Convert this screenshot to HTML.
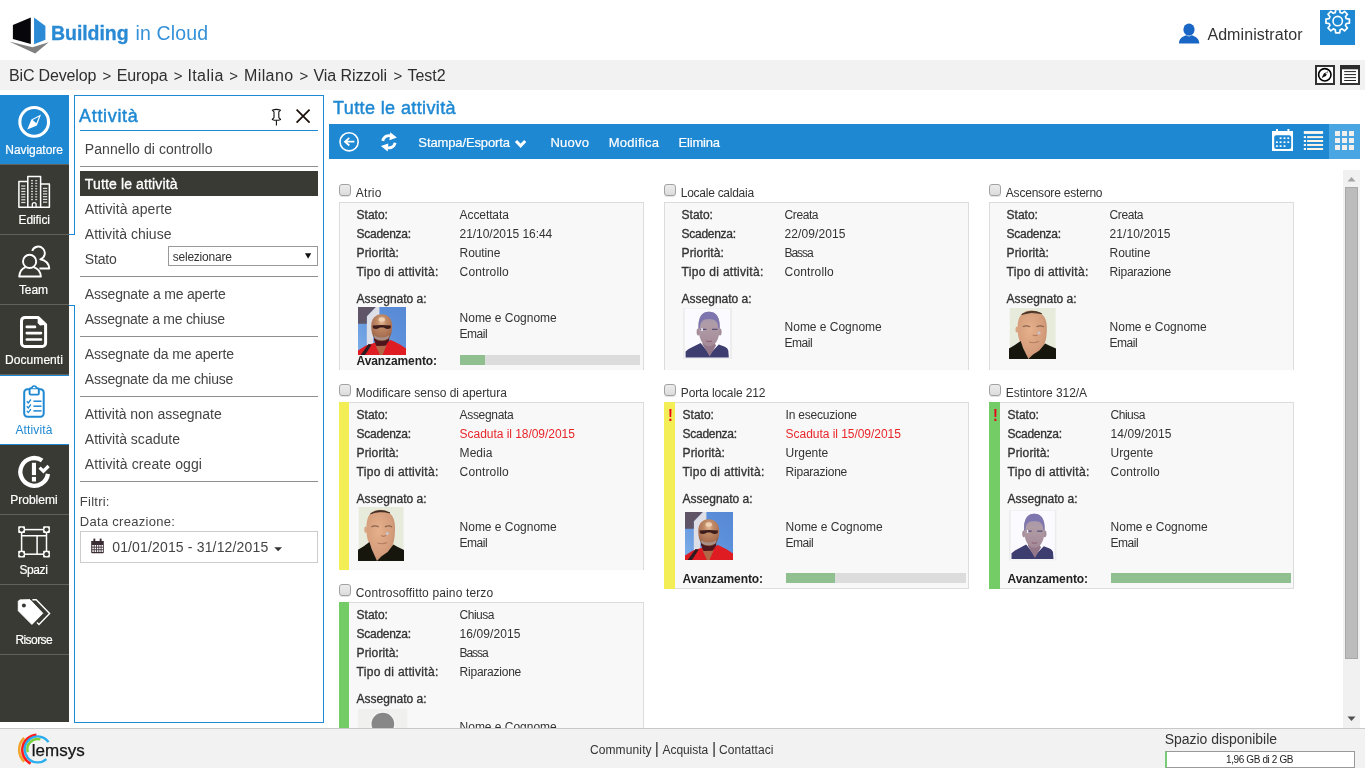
<!DOCTYPE html>
<html lang="it"><head><meta charset="utf-8"><title>Building in Cloud - Tutte le attività</title>
<style>
*{box-sizing:border-box;margin:0;padding:0}
html,body{width:1365px;height:768px;overflow:hidden;background:#fff}
body{font-family:"Liberation Sans",sans-serif;color:#333;position:relative}
.t{position:absolute;white-space:nowrap}
.abs,.abs>div,.abs>svg,.abs>span{position:absolute}
svg{display:block;overflow:visible}
#crumbs{left:0;top:60px;width:1365px;height:30px;background:#f2f2f2}
#side{left:0;top:95px;width:69px;height:627px;background:#3a3a35}
#side .it{left:0;width:69px;height:70px;border-bottom:1px solid #62625d}
#side .nav{background:#1e88d3}
#side .act{background:#fff;border-top:1px solid #1e88d3;border-bottom:1px solid #1e88d3}
#panel{left:74px;top:95px;width:250px;height:628px;border:1px solid #1e88d3;background:#fff}
.sep{left:80px;width:238px;height:1px;background:#8f8f8f}
#tool{left:329px;top:124px;width:1031px;height:35px;background:#1e88d3}
.card{width:305px;background:#f8f8f8;border:1px solid #dcdcdc}
.cb{width:12px;height:12px;border:1px solid #a2a2a2;border-radius:3px;background:linear-gradient(#ececec,#dcdcdc);box-shadow:0 1px 0 #e4e4e4}
.bar{height:10px;background:#dcdcdc}
.bar i{display:block;height:10px;background:#90c090}
#foot{left:0;top:728px;width:1365px;height:40px;background:#f2f2f2;border-top:1px solid #c8c8c8}
</style></head>
<body>
<svg width="0" height="0" style="position:absolute;left:0;top:0" aria-hidden="true"><defs><filter id="blA" x="-5%" y="-5%" width="110%" height="110%"><feGaussianBlur stdDeviation="0.55"/></filter><filter id="blB" x="-5%" y="-5%" width="110%" height="110%"><feGaussianBlur stdDeviation="0.7"/></filter><linearGradient id="skyA" x1="0" y1="1" x2="1" y2="0"><stop offset="0" stop-color="#7fb0ea"/><stop offset="0.6" stop-color="#5d90da"/><stop offset="1" stop-color="#5688d4"/></linearGradient><radialGradient id="skinA" cx="0.5" cy="0.28" r="0.75"><stop offset="0" stop-color="#e8bc98"/><stop offset="0.3" stop-color="#c08a66"/><stop offset="0.75" stop-color="#a86e50"/><stop offset="1" stop-color="#70402e"/></radialGradient><linearGradient id="faceB" x1="0" y1="0" x2="0" y2="1"><stop offset="0" stop-color="#9086b2"/><stop offset="0.2" stop-color="#a898aa"/><stop offset="0.4" stop-color="#b09ca6"/><stop offset="1" stop-color="#a48a96"/></linearGradient><radialGradient id="skinC" cx="0.42" cy="0.4" r="0.7"><stop offset="0" stop-color="#e6b08c"/><stop offset="0.7" stop-color="#d49c7a"/><stop offset="1" stop-color="#b88466"/></radialGradient><symbol id="phA" viewBox="0 0 48 48" preserveAspectRatio="none"><rect width="48" height="48" fill="url(#skyA)"/><g filter="url(#blA)"><polygon points="17.7,0 21.4,0 21.4,10 15.2,14 15.2,37.5 8.8,38 8.8,9.2" fill="#dedee6"/><polygon points="0,0 17.7,0 8.8,9.2 8.8,16.8 0,16.8" fill="#5e5566"/><path d="M0 48 L0 43.5 L8 38.6 L17 35.8 L26 36.5 L33 33 L42 37.6 L48 41.4 L48 48 Z" fill="#df1a22"/><polygon points="10.6,37 13.6,37.8 7,48 2.6,48" fill="#2a1c20"/><polygon points="17.3,38 22,48 24.5,48 28.8,38" fill="#b06848"/><path d="M16.2 26 L31 26 L31.2 33.5 L27.5 38.8 L18.5 39 L16 33 Z" fill="#4d151a"/><path d="M23.7 7.2 C30.2 7.2 34.2 12 34.2 19 C34.2 24 33.2 28 31.2 31 C29.2 33.4 26 34.2 23.7 34.2 C21.4 34.2 18.2 33.4 16.2 31 C14.2 28 13.2 24 13.2 19 C13.2 12 17.2 7.2 23.7 7.2 Z" fill="url(#skinA)"/><path d="M15.8 28 Q23.6 33.2 31.4 28 L30.4 31.5 Q23.6 35.2 16.8 31.5 Z" fill="#a89088"/><path d="M14.6 18.6 Q23.7 17.4 33 18.6 L32.6 21.2 Q28.8 23 25.6 20.6 L22 20.6 Q18.8 23 15 21.2 Z" fill="#3c1a1c"/><ellipse cx="23.8" cy="12.4" rx="3.2" ry="2.2" fill="#f6dcc2" opacity="0.8"/></g></symbol><symbol id="phB" viewBox="0 0 49 51" preserveAspectRatio="none"><rect width="49" height="51" fill="#ececec"/><rect x="1.6" y="0.6" width="45.6" height="49.4" fill="#fbfbff"/><g filter="url(#blB)"><path d="M2.6 49.6 L2.6 43.6 Q6 40.4 10 38.8 L17.6 34.9 L26.7 46 L35.8 36.5 L41.9 38.8 Q44.6 40 45.3 42.4 L45.8 49.6 Z" fill="#3c3c70"/><polygon points="19.4,36 26.7,48.4 33,37.6 30,33 20,33" fill="#94788a"/><ellipse cx="15.2" cy="24" rx="1.6" ry="3.4" fill="#a48c9a"/><ellipse cx="37" cy="24" rx="1.6" ry="3.4" fill="#a48c9a"/><path d="M26 3.8 C33.6 3.8 37 10 36.8 19 C36.6 28 34.6 33 31.4 36.2 C28.6 38.8 23.6 38.8 20.8 36.2 C17.6 33 15.6 28 15.4 19 C15.2 10 18.4 3.8 26 3.8 Z" fill="url(#faceB)"/><path d="M15.6 21 C15 9 19 3.8 26 3.8 C33 3.8 37.2 9 36.6 21 L35.2 20 C35.2 14 32.6 11 26 11 C19.6 11 17.2 14 17 20 Z" fill="#7e76ae"/><path d="M17.6 21.4 H23.4 M29 21.4 H34.6" stroke="#5a5078" stroke-width="1.3"/><path d="M23.4 33 Q26.2 34.2 29 33" stroke="#8a5c70" stroke-width="1" fill="none"/><rect x="18.2" y="20.2" width="1.6" height="2.8" fill="#f4f4ff"/></g></symbol><symbol id="phC" viewBox="0 0 48 51" preserveAspectRatio="none"><rect width="48" height="51" fill="#f4f4f0"/><rect x="1" y="0" width="46.4" height="51" fill="#e7ebdb"/><g filter="url(#blB)"><path d="M22.5 2.6 C32 2.4 38.6 8 38.6 19 C38.6 30 37.4 36 33 41 L27 50 L19 51 L13.6 38 C9.6 32 8.6 26 8.8 19 C9 8 13.6 2.8 22.5 2.6 Z" fill="url(#skinC)"/><path d="M13 6.4 Q22.6 0.6 33.4 5.6 Q22.8 3 13 6.4 Z" fill="#3c2c24" stroke="#3c2c24" stroke-width="0.8"/><ellipse cx="8" cy="21.4" rx="1.4" ry="3" fill="#d8a482"/><path d="M14 18.8 Q17.6 17 21.6 18.8 M28 18.8 Q32 17 35.6 18.8" stroke="#8a6450" stroke-width="1.2" fill="none"/><path d="M24.2 27 Q27 28.6 29.4 26.6 M20.4 34 Q25.4 35.6 30.4 33.6" stroke="#b47c60" stroke-width="1.1" fill="none"/><ellipse cx="30.6" cy="25" rx="1.7" ry="1.5" fill="#c9c4cc"/><path d="M0 51 L0 40.4 L6 37 L11.9 33 L14.4 40 L19.8 51 Z" fill="#15150f"/><path d="M19.8 51 L24.6 46.6 L31 42.4 L36.9 35.4 L41 37.6 L48 40.6 L48 51 Z" fill="#15150f"/></g></symbol><symbol id="phD" viewBox="0 0 49 48" preserveAspectRatio="none"><rect width="49" height="48" fill="#f0f0ee"/><circle cx="24.6" cy="15" r="12.3" fill="#fafafa"/><circle cx="24.6" cy="15" r="11.2" fill="#878787"/></symbol></defs></svg>
<div id="hdr" class="abs" style="left:0;top:0;width:1365px;height:60px">
<svg style="left:8px;top:15px" width="44" height="40" viewBox="8 15 44 40"><polygon points="9.1,41.5 32.5,47.3 48.7,42.2 35.2,53.4" fill="#7f7f7f"/><polygon points="12.9,24.9 30.8,17.5 30.8,43.9 12.9,39.1" fill="#06060b"/><polygon points="34.05,17.5 45.4,25.9 45.4,39.8 34.05,44.2" fill="#2a8ad6"/></svg>
<svg style="left:1176px;top:20px" width="26" height="26" viewBox="1176 20 26 26"><ellipse cx="1189" cy="29.6" rx="5.6" ry="6.2" fill="#1a66c4"/><path d="M1179 43.6 C1179 38.2 1182.5 36.8 1186.2 35.3 Q1189 37.6 1191.8 35.3 C1195.5 36.8 1199.3 38.2 1199.3 43.6 Z" fill="#1a66c4"/></svg>
<div style="left:1320px;top:10px;width:35px;height:35px;background:#1e88d3;overflow:hidden"><svg style="position:absolute;left:0;top:0" width="35" height="35" viewBox="1320 10 35 35"><polygon points="1346.27,18.68 1349.42,19.05 1349.42,23.15 1346.27,23.52 1345.47,25.45 1347.44,27.94 1344.54,30.84 1342.05,28.87 1340.12,29.67 1339.75,32.82 1335.65,32.82 1335.28,29.67 1333.35,28.87 1330.86,30.84 1327.96,27.94 1329.93,25.45 1329.13,23.52 1325.98,23.15 1325.98,19.05 1329.13,18.68 1329.93,16.75 1327.96,14.26 1330.86,11.36 1333.35,13.33 1335.28,12.53 1335.65,9.38 1339.75,9.38 1340.12,12.53 1342.05,13.33 1344.54,11.36 1347.44,14.26 1345.47,16.75" fill="none" stroke="#fff" stroke-width="1.7" stroke-linejoin="round"/><circle cx="1337.7" cy="21.1" r="4.7" fill="none" stroke="#fff" stroke-width="1.6"/></svg></div>
</div>
<span class="t" style="left:51.02px;top:22px;font-size:19.5px;line-height:22px;color:#2a8ad4;letter-spacing:-0.058px;-webkit-text-stroke:0.3px;"><b>Building</b></span>
<span class="t" style="left:135.43px;top:22px;font-size:19.5px;line-height:22px;color:#3591d8;letter-spacing:0.147px;">in Cloud</span>
<span class="t" style="left:1207.4px;top:26px;font-size:16px;line-height:17px;letter-spacing:0.079px;">Administrator</span>
<div id="crumbs" class="abs"></div>
<span class="t" style="left:9px;top:67px;font-size:16px;line-height:17px;color:#2e2e2e;letter-spacing:-0.154px;">BiC Develop</span>
<span class="t" style="left:102.55px;top:67px;font-size:15px;line-height:17px;color:#2e2e2e;">&gt;</span>
<span class="t" style="left:116.8px;top:67px;font-size:16px;line-height:17px;color:#2e2e2e;letter-spacing:-0.159px;">Europa</span>
<span class="t" style="left:173.85px;top:67px;font-size:15px;line-height:17px;color:#2e2e2e;">&gt;</span>
<span class="t" style="left:187.4px;top:67px;font-size:16px;line-height:17px;color:#2e2e2e;letter-spacing:0.421px;">Italia</span>
<span class="t" style="left:229.15px;top:67px;font-size:15px;line-height:17px;color:#2e2e2e;">&gt;</span>
<span class="t" style="left:243.9px;top:67px;font-size:16px;line-height:17px;color:#2e2e2e;letter-spacing:0.432px;">Milano</span>
<span class="t" style="left:299.45px;top:67px;font-size:15px;line-height:17px;color:#2e2e2e;">&gt;</span>
<span class="t" style="left:313.5px;top:67px;font-size:16px;line-height:17px;color:#2e2e2e;letter-spacing:-0.081px;">Via Rizzoli</span>
<span class="t" style="left:393.45px;top:67px;font-size:15px;line-height:17px;color:#2e2e2e;">&gt;</span>
<span class="t" style="left:407.4px;top:67px;font-size:16px;line-height:17px;color:#2e2e2e;letter-spacing:0.012px;">Test2</span>
<div class="abs"><svg style="left:1313px;top:63px" width="50" height="24" viewBox="1313 63 50 24"><rect x="1316" y="66" width="18" height="18" fill="#fff" stroke="#333" stroke-width="2"/><circle cx="1324.8" cy="74.8" r="6.2" fill="none" stroke="#000" stroke-width="1.6"/><polygon points="1328,71.3 1325.9,76 1321.6,78 1323.8,73.5" fill="#111"/><circle cx="1326.4" cy="73.2" r="0.9" fill="#ddd"/><rect x="1341" y="66" width="18" height="18" fill="#fff" stroke="#333" stroke-width="2"/><rect x="1340" y="65" width="20" height="4.3" fill="#2c2c2c"/><rect x="1344.2" y="71.1" width="11.8" height="1" fill="#222"/><rect x="1344.2" y="74.1" width="11.8" height="1" fill="#222"/><rect x="1344.2" y="77.1" width="11.8" height="1" fill="#222"/><rect x="1344.2" y="80" width="11.8" height="1" fill="#222"/></svg></div>
<div id="side" class="abs">
<div class="it nav" style="top:0px"></div>
<div class="it " style="top:70px"></div>
<div class="it " style="top:140px"></div>
<div class="it " style="top:210px"></div>
<div class="it act" style="top:280px"></div>
<div class="it " style="top:350px"></div>
<div class="it " style="top:420px"></div>
<div class="it " style="top:490px"></div>
</div>
<span class="t" style="left:5.3px;top:143px;font-size:12px;line-height:14px;color:#fff;letter-spacing:-0.048px;-webkit-text-stroke:0.2px;">Navigatore</span>
<span class="t" style="left:18.5px;top:213px;font-size:12px;line-height:14px;color:#fff;letter-spacing:-0.086px;-webkit-text-stroke:0.2px;">Edifici</span>
<span class="t" style="left:19px;top:283px;font-size:12px;line-height:14px;color:#fff;letter-spacing:-0.148px;-webkit-text-stroke:0.2px;">Team</span>
<span class="t" style="left:5.1px;top:353px;font-size:12px;line-height:14px;color:#fff;letter-spacing:0.055px;-webkit-text-stroke:0.2px;">Documenti</span>
<span class="t" style="left:15.4px;top:423px;font-size:12px;line-height:14px;color:#1e88d3;letter-spacing:0.141px;">Attività</span>
<span class="t" style="left:10.3px;top:493px;font-size:12px;line-height:14px;color:#fff;letter-spacing:-0.008px;-webkit-text-stroke:0.2px;">Problemi</span>
<span class="t" style="left:19.4px;top:563px;font-size:12px;line-height:14px;color:#fff;letter-spacing:-0.383px;-webkit-text-stroke:0.2px;">Spazi</span>
<span class="t" style="left:15.4px;top:633px;font-size:12px;line-height:14px;color:#fff;letter-spacing:-0.565px;-webkit-text-stroke:0.2px;">Risorse</span>
<div class="abs">
<svg style="left:10px;top:103px" width="50" height="40" viewBox="10 103 50 40"><circle cx="34.2" cy="121.9" r="14.35" fill="none" stroke="#fff" stroke-width="3.1"/><polygon points="41,114.6 36.9,125.5 27.3,129.6 31.4,119.6" fill="#fff"/><polygon points="39,116.8 36.3,123.3 32.6,119.9" fill="#1e88d3"/></svg>
<svg style="left:10px;top:173px" width="50" height="40" viewBox="10 173 50 40"><path d="M18.9 207.3 V181.6 H27.8 V176.4 H40.6 V184 H49.4 V207.3 Z M27.8 181.6 V207.3 M40.6 184 V207.3" fill="none" stroke="#fff" stroke-width="1.5" stroke-linejoin="round"/><rect x="21.2" y="185.4" width="4.2" height="1.2" fill="#ddd"/><rect x="21.2" y="188.15" width="4.2" height="1.2" fill="#ddd"/><rect x="21.2" y="190.9" width="4.2" height="1.2" fill="#ddd"/><rect x="21.2" y="193.65" width="4.2" height="1.2" fill="#ddd"/><rect x="21.2" y="196.4" width="4.2" height="1.2" fill="#ddd"/><rect x="21.2" y="199.15" width="4.2" height="1.2" fill="#ddd"/><rect x="21.2" y="201.9" width="4.2" height="1.2" fill="#ddd"/><rect x="43" y="187.8" width="4.2" height="1.2" fill="#ddd"/><rect x="43" y="190.55" width="4.2" height="1.2" fill="#ddd"/><rect x="43" y="193.3" width="4.2" height="1.2" fill="#ddd"/><rect x="43" y="196.05" width="4.2" height="1.2" fill="#ddd"/><rect x="43" y="198.8" width="4.2" height="1.2" fill="#ddd"/><rect x="43" y="201.55" width="4.2" height="1.2" fill="#ddd"/><rect x="31" y="180" width="2" height="1.3" fill="#ccc"/><rect x="35.2" y="180" width="2" height="1.3" fill="#ccc"/><rect x="31" y="182.7" width="2" height="1.3" fill="#ccc"/><rect x="35.2" y="182.7" width="2" height="1.3" fill="#ccc"/><rect x="31" y="185.4" width="2" height="1.3" fill="#ccc"/><rect x="35.2" y="185.4" width="2" height="1.3" fill="#ccc"/><rect x="31" y="188.1" width="2" height="1.3" fill="#ccc"/><rect x="35.2" y="188.1" width="2" height="1.3" fill="#ccc"/><rect x="31" y="190.8" width="2" height="1.3" fill="#ccc"/><rect x="35.2" y="190.8" width="2" height="1.3" fill="#ccc"/><rect x="31" y="193.5" width="2" height="1.3" fill="#ccc"/><rect x="35.2" y="193.5" width="2" height="1.3" fill="#ccc"/><rect x="31" y="196.2" width="2" height="1.3" fill="#ccc"/><rect x="35.2" y="196.2" width="2" height="1.3" fill="#ccc"/><rect x="31" y="198.9" width="2" height="1.3" fill="#ccc"/><rect x="35.2" y="198.9" width="2" height="1.3" fill="#ccc"/><path d="M32.3 207.3 V204.6 a1.9 1.9 0 0 1 3.8 0 V207.3" fill="none" stroke="#fff" stroke-width="1.3"/></svg>
<svg style="left:10px;top:243px" width="50" height="40" viewBox="10 243 50 40"><path d="M32.19 250.88 A6.5 6.5 0 1 1 40.31 259.28 C45 260.2 48.8 263.6 49.3 268.5 H39.4" fill="none" stroke="#fff" stroke-width="1.9" stroke-linejoin="round"/><circle cx="29.6" cy="261.4" r="6.6" fill="none" stroke="#fff" stroke-width="1.9"/><path d="M25.6 267.1 C22.4 268.2 19.7 271.4 19.2 276.5 H40.9 C40.4 271.4 37 268.2 33.6 267.1" fill="none" stroke="#fff" stroke-width="1.9" stroke-linejoin="round"/></svg>
<svg style="left:10px;top:313px" width="50" height="40" viewBox="10 313 50 40"><path d="M25 317.4 H38 L45.6 324.6 V343 a3.5 3.5 0 0 1 -3.5 3.5 H25 a3.5 3.5 0 0 1 -3.5 -3.5 V320.9 a3.5 3.5 0 0 1 3.5 -3.5 Z" fill="none" stroke="#fff" stroke-width="3" stroke-linejoin="round"/><polygon points="37.8,316.4 47,324.8 40,325.6 37.6,323" fill="#fff"/><path d="M26.8 326.9 H35 M26.8 333.1 H41 M26.8 339.5 H41" stroke="#fff" stroke-width="2.6" stroke-linecap="round"/></svg>
<svg style="left:10px;top:383px" width="50" height="40" viewBox="10 383 50 40"><rect x="24.2" y="389.2" width="19.5" height="27.6" rx="3.2" fill="none" stroke="#1e88d3" stroke-width="2"/><rect x="29.6" y="388.2" width="9.2" height="6.4" rx="1.2" fill="#fff" stroke="#1e88d3" stroke-width="1.9"/><path d="M32 388.2 a2.2 2.2 0 0 1 4.4 0" fill="#fff" stroke="#1e88d3" stroke-width="1.6"/><path d="M33.4 401.2 H41.5" stroke="#1e88d3" stroke-width="1.5"/><path d="M26.8 401.2 l1.5 1.7 l2.6 -3.4" fill="none" stroke="#1e88d3" stroke-width="1.3"/><path d="M33.4 406.2 H41.5" stroke="#1e88d3" stroke-width="1.5"/><path d="M26.8 406.2 l1.5 1.7 l2.6 -3.4" fill="none" stroke="#1e88d3" stroke-width="1.3"/><path d="M33.4 410.9 H41.5" stroke="#1e88d3" stroke-width="1.5"/><path d="M26.8 410.9 l1.5 1.7 l2.6 -3.4" fill="none" stroke="#1e88d3" stroke-width="1.3"/></svg>
<svg style="left:10px;top:453px" width="50" height="40" viewBox="10 453 50 40"><path d="M42.14 460.55 A13.85 13.85 0 1 0 47.92 473.83" fill="none" stroke="#fff" stroke-width="4.3"/><rect x="31.9" y="462.8" width="4.1" height="12.3" fill="#fff"/><rect x="31.9" y="476.9" width="4.1" height="4.6" fill="#fff"/><path d="M39.6 467.6 L43.4 471.2 L48.6 466" fill="none" stroke="#fff" stroke-width="3.2"/></svg>
<svg style="left:10px;top:523px" width="50" height="40" viewBox="10 523 50 40"><rect x="21.6" y="529.6" width="24.9" height="24.6" fill="none" stroke="#fff" stroke-width="1.5"/><path d="M21.6 535.8 H46.5 M37.1 535.8 V554.2" stroke="#fff" stroke-width="1.5"/><rect x="18.2" y="526.2" width="6.8" height="6.8" rx="0.8" fill="#fff"/><circle cx="21.6" cy="529.6" r="2.1" fill="#3a3a35"/><rect x="43.1" y="526.2" width="6.8" height="6.8" rx="0.8" fill="#fff"/><circle cx="46.5" cy="529.6" r="2.1" fill="#3a3a35"/><rect x="18.2" y="550.8" width="6.8" height="6.8" rx="0.8" fill="#fff"/><circle cx="21.6" cy="554.2" r="2.1" fill="#3a3a35"/><rect x="43.1" y="550.8" width="6.8" height="6.8" rx="0.8" fill="#fff"/><circle cx="46.5" cy="554.2" r="2.1" fill="#3a3a35"/></svg>
<svg style="left:10px;top:593px" width="50" height="40" viewBox="10 593 50 40"><path d="M32.4 599.7 H36.2 L49.6 613.6 L39 624.4 L37 622.4" fill="none" stroke="#fff" stroke-width="1.4" stroke-linejoin="miter"/><path d="M19.7 599.9 L30 599.7 L42.8 613.3 L31.9 624.4 L18.3 610.8 L18.3 601.3 Z" fill="#fff" stroke="#fff" stroke-width="1" stroke-linejoin="round"/><circle cx="23.9" cy="605.5" r="2" fill="#3a3a35"/></svg>
</div>
<div id="panel" class="abs"></div>
<div class="abs"><div style="left:69px;top:235px;width:6px;height:70px;background:#fff"></div><div style="left:69px;top:234px;width:6px;height:1px;background:#1e88d3"></div><div style="left:69px;top:305px;width:6px;height:1px;background:#1e88d3"></div></div>
<span class="t" style="left:79.1px;top:106px;font-size:18px;line-height:20px;-webkit-text-stroke:0.45px;color:#1e88d3;letter-spacing:0.667px;">Attività</span>
<div class="abs"><div class="sep" style="top:130px;background:#1e88d3"></div>
<div class="sep" style="top:166px"></div>
<div class="sep" style="top:276px"></div>
<div class="sep" style="top:336px"></div>
<div class="sep" style="top:396px"></div>
<div class="sep" style="top:481px"></div>
<div style="left:80px;top:171px;width:238px;height:25px;background:#3a3a35"></div>
<div style="left:168px;top:246px;width:150px;height:20px;border:1px solid #999;background:#fff"></div>
<div style="left:80px;top:531px;width:238px;height:32px;border:1px solid #ccc;background:#fff"></div>
<svg style="left:268px;top:105px" width="46" height="24" viewBox="268 105 46 24"><path d="M272.3 110.2 Q276.4 108.6 280.6 110.2 L278.8 111.9 V117.6 L280.6 119.4 Q276.4 121.2 272.3 119.4 L274 117.6 V111.9 Z" fill="#fff" stroke="#111" stroke-width="1.1" stroke-linejoin="round"/><path d="M276.4 120.5 V125.6" stroke="#111" stroke-width="1.1"/><path d="M296.6 109.6 L309.6 122.6 M309.6 109.6 L296.6 122.6" stroke="#1a0f0a" stroke-width="1.7"/></svg>
<svg style="left:300px;top:250px" width="14" height="12" viewBox="300 250 14 12"><polygon points="305,253.3 311.2,253.3 308.1,258.8" fill="#111"/></svg>
<svg style="left:88px;top:536px" width="200" height="20" viewBox="88 536 200 20"><path d="M91.2 541 h12.6 v11.2 a1 1 0 0 1 -1 1 h-10.6 a1 1 0 0 1 -1 -1 Z" fill="#3a2d33"/><rect x="93.4" y="538.6" width="1.9" height="3" fill="#3a2d33"/><rect x="99.7" y="538.6" width="1.9" height="3" fill="#3a2d33"/><rect x="92.3" y="545" width="1.5" height="1.7" fill="#fff"/><rect x="94.6" y="545" width="1.5" height="1.7" fill="#fff"/><rect x="96.9" y="545" width="1.5" height="1.7" fill="#fff"/><rect x="99.2" y="545" width="1.5" height="1.7" fill="#fff"/><rect x="101.5" y="545" width="1.5" height="1.7" fill="#fff"/><rect x="92.3" y="547.6" width="1.5" height="1.7" fill="#fff"/><rect x="94.6" y="547.6" width="1.5" height="1.7" fill="#fff"/><rect x="96.9" y="547.6" width="1.5" height="1.7" fill="#fff"/><rect x="99.2" y="547.6" width="1.5" height="1.7" fill="#fff"/><rect x="101.5" y="547.6" width="1.5" height="1.7" fill="#fff"/><rect x="92.3" y="550.2" width="1.5" height="1.7" fill="#fff"/><rect x="94.6" y="550.2" width="1.5" height="1.7" fill="#fff"/><rect x="96.9" y="550.2" width="1.5" height="1.7" fill="#fff"/><rect x="99.2" y="550.2" width="1.5" height="1.7" fill="#fff"/><rect x="101.5" y="550.2" width="1.5" height="1.7" fill="#fff"/><polygon points="274.3,547.3 282,547.3 278.15,551.2" fill="#333"/></svg>
</div>
<span class="t" style="left:84.8px;top:141px;font-size:14px;line-height:16px;color:#444;letter-spacing:0.080px;">Pannello di controllo</span>
<span class="t" style="left:84.8px;top:176px;font-size:14px;line-height:16px;-webkit-text-stroke:0.32px;color:#fff;letter-spacing:0.136px;">Tutte le attività</span>
<span class="t" style="left:84.8px;top:201px;font-size:14px;line-height:16px;color:#444;letter-spacing:0.114px;">Attività aperte</span>
<span class="t" style="left:84.8px;top:226px;font-size:14px;line-height:16px;color:#444;letter-spacing:0.023px;">Attività chiuse</span>
<span class="t" style="left:84.8px;top:251px;font-size:14px;line-height:16px;color:#444;letter-spacing:-0.151px;">Stato</span>
<span class="t" style="left:172.7px;top:250px;font-size:12px;line-height:14px;letter-spacing:-0.217px;">selezionare</span>
<span class="t" style="left:84.8px;top:286px;font-size:14px;line-height:16px;color:#444;letter-spacing:-0.194px;">Assegnate a me aperte</span>
<span class="t" style="left:84.8px;top:311px;font-size:14px;line-height:16px;color:#444;letter-spacing:-0.265px;">Assegnate a me chiuse</span>
<span class="t" style="left:84.8px;top:346px;font-size:14px;line-height:16px;color:#444;letter-spacing:-0.163px;">Assegnate da me aperte</span>
<span class="t" style="left:84.8px;top:371px;font-size:14px;line-height:16px;color:#444;letter-spacing:-0.232px;">Assegnate da me chiuse</span>
<span class="t" style="left:84.8px;top:406px;font-size:14px;line-height:16px;color:#444;letter-spacing:-0.038px;">Attività non assegnate</span>
<span class="t" style="left:84.8px;top:431px;font-size:14px;line-height:16px;color:#444;letter-spacing:0.016px;">Attività scadute</span>
<span class="t" style="left:84.8px;top:456px;font-size:14px;line-height:16px;color:#444;letter-spacing:0.105px;">Attività create oggi</span>
<span class="t" style="left:79.85px;top:494px;font-size:13px;line-height:15px;color:#444;letter-spacing:0.246px;">Filtri:</span>
<span class="t" style="left:79.85px;top:514px;font-size:13px;line-height:15px;color:#444;letter-spacing:0.278px;">Data creazione:</span>
<span class="t" style="left:112.2px;top:539px;font-size:14px;line-height:16px;color:#444;letter-spacing:0.156px;">01/01/2015 - 31/12/2015</span>
<span class="t" style="left:333.1px;top:98px;font-size:18px;line-height:20px;-webkit-text-stroke:0.45px;color:#1e88d3;letter-spacing:0.382px;">Tutte le attività</span>
<div id="tool" class="abs"><div style="right:0;top:0;width:31px;height:35px;background:#4aa5e3"></div><svg style="left:0px;top:0px" width="1031" height="35" viewBox="329 124 1031 35"><circle cx="349.1" cy="141.8" r="9.1" fill="none" stroke="#fff" stroke-width="1.6"/><path d="M354.4 141.7 H345 M349.3 137.9 L345 141.7 L349.3 145.5" fill="none" stroke="#fff" stroke-width="1.8"/><g transform="translate(388.9 141.8)" fill="#fff"><g id="rf"><path d="M-7.6 -1.2 A7.7 7.7 0 0 1 4.2 -6.3 L2.6 -4 A4.9 4.9 0 0 0 -4.8 -0.6 Z"/><polygon points="1.2,-9.6 8,-4.2 0.6,-1.6"/></g><g transform="rotate(180)"><path d="M-7.6 -1.2 A7.7 7.7 0 0 1 4.2 -6.3 L2.6 -4 A4.9 4.9 0 0 0 -4.8 -0.6 Z"/><polygon points="1.2,-9.6 8,-4.2 0.6,-1.6"/></g></g><path d="M516 141 L520.6 145.8 L525.2 141" fill="none" stroke="#fff" stroke-width="3"/><rect x="1272" y="131" width="21" height="20" fill="#fff"/><rect x="1276" y="129" width="2" height="3" fill="#fff"/><rect x="1287.4" y="129" width="2" height="3" fill="#fff"/><rect x="1274.2" y="135.2" width="17" height="13.8" rx="2" fill="#1e88d3"/><rect x="1279.65" y="137.35" width="1.9" height="1.7" fill="#fff"/><rect x="1283.55" y="137.35" width="1.9" height="1.7" fill="#fff"/><rect x="1287.35" y="137.35" width="1.9" height="1.7" fill="#fff"/><rect x="1275.95" y="141.35" width="1.9" height="1.7" fill="#fff"/><rect x="1279.65" y="141.35" width="1.9" height="1.7" fill="#fff"/><rect x="1283.55" y="141.35" width="1.9" height="1.7" fill="#fff"/><rect x="1287.35" y="141.35" width="1.9" height="1.7" fill="#fff"/><rect x="1275.95" y="145.25" width="1.9" height="1.7" fill="#fff"/><rect x="1279.65" y="145.25" width="1.9" height="1.7" fill="#fff"/><rect x="1283.55" y="145.25" width="1.9" height="1.7" fill="#fff"/><rect x="1303.8" y="131.1" width="19.3" height="2.8" fill="#fffaf0"/><rect x="1303.8" y="136.1" width="2.2" height="2" fill="#fffaf0"/><rect x="1307.1" y="136.1" width="16" height="2" fill="#fff3e2"/><rect x="1303.8" y="140" width="2.2" height="2" fill="#fffaf0"/><rect x="1307.1" y="140" width="16" height="2" fill="#fff3e2"/><rect x="1303.8" y="143.95" width="2.2" height="2" fill="#fffaf0"/><rect x="1307.1" y="143.95" width="16" height="2" fill="#fff3e2"/><rect x="1303.8" y="148" width="2.2" height="2" fill="#fffaf0"/><rect x="1307.1" y="148" width="16" height="2" fill="#fff3e2"/><rect x="1335" y="131" width="5" height="5" fill="#f0efec"/><rect x="1342" y="131" width="5" height="5" fill="#f0efec"/><rect x="1349" y="131" width="5" height="5" fill="#f0efec"/><rect x="1335" y="138" width="5" height="5" fill="#f0efec"/><rect x="1342" y="138" width="5" height="5" fill="#f0efec"/><rect x="1349" y="138" width="5" height="5" fill="#f0efec"/><rect x="1335" y="145" width="5" height="5" fill="#f0efec"/><rect x="1342" y="145" width="5" height="5" fill="#f0efec"/><rect x="1349" y="145" width="5" height="5" fill="#f0efec"/></svg></div>
<span class="t" style="left:418.35px;top:135px;font-size:13px;line-height:15px;color:#fff;letter-spacing:-0.121px;-webkit-text-stroke:0.2px;">Stampa/Esporta</span>
<span class="t" style="left:550.45px;top:135px;font-size:13px;line-height:15px;color:#fff;letter-spacing:0.243px;-webkit-text-stroke:0.2px;">Nuovo</span>
<span class="t" style="left:608.65px;top:135px;font-size:13px;line-height:15px;color:#fff;letter-spacing:0.275px;-webkit-text-stroke:0.2px;">Modifica</span>
<span class="t" style="left:678.55px;top:135px;font-size:13px;line-height:15px;color:#fff;letter-spacing:-0.196px;-webkit-text-stroke:0.2px;">Elimina</span>
<div class="abs"><div style="left:1343px;top:170px;width:17px;height:558px;background:#f1f1f1"></div><div style="left:1345px;top:187px;width:13px;height:472px;background:#bcbcbc;border:1px solid #a8a8a8"></div><svg style="left:1343px;top:170px" width="17" height="558" viewBox="1343 170 17 558"><polygon points="1347.5,181.5 1355.5,181.5 1351.5,177" fill="#a3a3a3"/><polygon points="1347.5,716.5 1355.5,716.5 1351.5,721" fill="#505050"/></svg></div>
<div id="list" class="abs" style="left:329px;top:170px;width:1014px;height:558px;overflow:hidden">
<div class="cb" style="left:10px;top:14px"></div>
<div class="card" style="left:10px;top:32px;height:168px;border-bottom:0"></div>
<svg width="48" height="48" style="left:29px;top:137px"><use href="#phA"/></svg>
<div class="bar" style="left:131px;top:185px;width:180px"><i style="width:14%"></i></div>
<div class="cb" style="left:335px;top:14px"></div>
<div class="card" style="left:335px;top:32px;height:168px;border-bottom:0"></div>
<svg width="49" height="51" style="left:353.5px;top:138px"><use href="#phB"/></svg>
<div class="cb" style="left:660px;top:14px"></div>
<div class="card" style="left:660px;top:32px;height:168px;border-bottom:0"></div>
<svg width="47" height="51" style="left:679.5px;top:138px"><use href="#phC"/></svg>
<div class="cb" style="left:10px;top:214px"></div>
<div class="card" style="left:10px;top:232px;height:168px;border-bottom:0"></div>
<div style="left:10px;top:232px;width:10px;height:168px;background:#f4ee56"></div>
<svg width="46" height="54" style="left:29px;top:337px"><use href="#phC"/></svg>
<div class="cb" style="left:335px;top:214px"></div>
<div class="card" style="left:335px;top:232px;height:187px"></div>
<div style="left:335px;top:232px;width:11px;height:187px;background:#f4ee56"></div>
<svg width="48" height="48" style="left:356px;top:342px"><use href="#phA"/></svg>
<div class="bar" style="left:457px;top:403px;width:180px"><i style="width:27%"></i></div>
<div class="cb" style="left:660px;top:214px"></div>
<div class="card" style="left:660px;top:232px;height:187px"></div>
<div style="left:660px;top:232px;width:11px;height:187px;background:#74cc66"></div>
<svg width="47.6" height="50.5" style="left:680px;top:339.5px"><use href="#phB"/></svg>
<div class="bar" style="left:782px;top:403px;width:180px"><i style="width:100%"></i></div>
<div class="cb" style="left:10px;top:414px"></div>
<div class="card" style="left:10px;top:432px;height:168px;border-bottom:0"></div>
<div style="left:10px;top:432px;width:10px;height:168px;background:#74cc66"></div>
<svg width="49.5" height="48" style="left:28.5px;top:539px"><use href="#phD"/></svg>
</div>
<div id="ltxt" class="abs" style="left:0;top:170px;width:1343px;height:558px;overflow:hidden"><div style="left:0;top:-170px">
<span class="t" style="left:355.8px;top:186px;font-size:12px;line-height:14px;letter-spacing:0.246px;">Atrio</span>
<span class="t" style="left:356.6px;top:208px;font-size:12px;line-height:14px;-webkit-text-stroke:0.32px;">Stato:</span>
<span class="t" style="left:459.6px;top:208px;font-size:12px;line-height:14px;letter-spacing:-0.095px;">Accettata</span>
<span class="t" style="left:356.6px;top:227px;font-size:12px;line-height:14px;-webkit-text-stroke:0.32px;letter-spacing:-0.292px;">Scadenza:</span>
<span class="t" style="left:459.6px;top:227px;font-size:12px;line-height:14px;letter-spacing:-0.053px;">21/10/2015 16:44</span>
<span class="t" style="left:356.6px;top:246px;font-size:12px;line-height:14px;-webkit-text-stroke:0.32px;letter-spacing:0.115px;">Priorità:</span>
<span class="t" style="left:459.6px;top:246px;font-size:12px;line-height:14px;letter-spacing:-0.099px;">Routine</span>
<span class="t" style="left:356.6px;top:265px;font-size:12px;line-height:14px;-webkit-text-stroke:0.32px;letter-spacing:0.297px;">Tipo di attività:</span>
<span class="t" style="left:459.6px;top:265px;font-size:12px;line-height:14px;letter-spacing:0.134px;">Controllo</span>
<span class="t" style="left:356.6px;top:292px;font-size:12px;line-height:14px;-webkit-text-stroke:0.32px;letter-spacing:-0.004px;">Assegnato a:</span>
<span class="t" style="left:459.6px;top:311px;font-size:12px;line-height:14px;letter-spacing:-0.020px;">Nome e Cognome</span>
<span class="t" style="left:459.6px;top:327px;font-size:12px;line-height:14px;letter-spacing:-0.486px;">Email</span>
<span class="t" style="left:356.5px;top:354px;font-size:12px;line-height:14px;font-weight:700;color:#222;letter-spacing:-0.089px;">Avanzamento:</span>
<span class="t" style="left:680.8px;top:186px;font-size:12px;line-height:14px;letter-spacing:-0.266px;">Locale caldaia</span>
<span class="t" style="left:681.6px;top:208px;font-size:12px;line-height:14px;-webkit-text-stroke:0.32px;">Stato:</span>
<span class="t" style="left:784.6px;top:208px;font-size:12px;line-height:14px;letter-spacing:-0.423px;">Creata</span>
<span class="t" style="left:681.6px;top:227px;font-size:12px;line-height:14px;-webkit-text-stroke:0.32px;letter-spacing:-0.292px;">Scadenza:</span>
<span class="t" style="left:784.6px;top:227px;font-size:12px;line-height:14px;letter-spacing:0.089px;">22/09/2015</span>
<span class="t" style="left:681.6px;top:246px;font-size:12px;line-height:14px;-webkit-text-stroke:0.32px;letter-spacing:0.115px;">Priorità:</span>
<span class="t" style="left:784.6px;top:246px;font-size:12px;line-height:14px;letter-spacing:-1.081px;">Bassa</span>
<span class="t" style="left:681.6px;top:265px;font-size:12px;line-height:14px;-webkit-text-stroke:0.32px;letter-spacing:0.297px;">Tipo di attività:</span>
<span class="t" style="left:784.6px;top:265px;font-size:12px;line-height:14px;letter-spacing:0.134px;">Controllo</span>
<span class="t" style="left:681.6px;top:292px;font-size:12px;line-height:14px;-webkit-text-stroke:0.32px;letter-spacing:-0.004px;">Assegnato a:</span>
<span class="t" style="left:784.6px;top:320px;font-size:12px;line-height:14px;letter-spacing:-0.020px;">Nome e Cognome</span>
<span class="t" style="left:784.6px;top:336px;font-size:12px;line-height:14px;letter-spacing:-0.486px;">Email</span>
<span class="t" style="left:1005.8px;top:186px;font-size:12px;line-height:14px;letter-spacing:-0.208px;">Ascensore esterno</span>
<span class="t" style="left:1006.6px;top:208px;font-size:12px;line-height:14px;-webkit-text-stroke:0.32px;">Stato:</span>
<span class="t" style="left:1109.6px;top:208px;font-size:12px;line-height:14px;letter-spacing:-0.423px;">Creata</span>
<span class="t" style="left:1006.6px;top:227px;font-size:12px;line-height:14px;-webkit-text-stroke:0.32px;letter-spacing:-0.292px;">Scadenza:</span>
<span class="t" style="left:1109.6px;top:227px;font-size:12px;line-height:14px;letter-spacing:0.089px;">21/10/2015</span>
<span class="t" style="left:1006.6px;top:246px;font-size:12px;line-height:14px;-webkit-text-stroke:0.32px;letter-spacing:0.115px;">Priorità:</span>
<span class="t" style="left:1109.6px;top:246px;font-size:12px;line-height:14px;letter-spacing:-0.099px;">Routine</span>
<span class="t" style="left:1006.6px;top:265px;font-size:12px;line-height:14px;-webkit-text-stroke:0.32px;letter-spacing:0.297px;">Tipo di attività:</span>
<span class="t" style="left:1109.6px;top:265px;font-size:12px;line-height:14px;letter-spacing:-0.234px;">Riparazione</span>
<span class="t" style="left:1006.6px;top:292px;font-size:12px;line-height:14px;-webkit-text-stroke:0.32px;letter-spacing:-0.004px;">Assegnato a:</span>
<span class="t" style="left:1109.6px;top:320px;font-size:12px;line-height:14px;letter-spacing:-0.020px;">Nome e Cognome</span>
<span class="t" style="left:1109.6px;top:336px;font-size:12px;line-height:14px;letter-spacing:-0.486px;">Email</span>
<span class="t" style="left:355.8px;top:386px;font-size:12px;line-height:14px;letter-spacing:-0.012px;">Modificare senso di apertura</span>
<span class="t" style="left:356.6px;top:408px;font-size:12px;line-height:14px;-webkit-text-stroke:0.32px;">Stato:</span>
<span class="t" style="left:459.6px;top:408px;font-size:12px;line-height:14px;letter-spacing:-0.330px;">Assegnata</span>
<span class="t" style="left:356.6px;top:427px;font-size:12px;line-height:14px;-webkit-text-stroke:0.32px;letter-spacing:-0.292px;">Scadenza:</span>
<span class="t" style="left:459.6px;top:427px;font-size:12px;line-height:14px;color:#e8262a;letter-spacing:-0.041px;">Scaduta il 18/09/2015</span>
<span class="t" style="left:356.6px;top:446px;font-size:12px;line-height:14px;-webkit-text-stroke:0.32px;letter-spacing:0.115px;">Priorità:</span>
<span class="t" style="left:459.6px;top:446px;font-size:12px;line-height:14px;letter-spacing:0.047px;">Media</span>
<span class="t" style="left:356.6px;top:465px;font-size:12px;line-height:14px;-webkit-text-stroke:0.32px;letter-spacing:0.297px;">Tipo di attività:</span>
<span class="t" style="left:459.6px;top:465px;font-size:12px;line-height:14px;letter-spacing:0.134px;">Controllo</span>
<span class="t" style="left:356.6px;top:492px;font-size:12px;line-height:14px;-webkit-text-stroke:0.32px;letter-spacing:-0.004px;">Assegnato a:</span>
<span class="t" style="left:459.6px;top:520px;font-size:12px;line-height:14px;letter-spacing:-0.020px;">Nome e Cognome</span>
<span class="t" style="left:459.6px;top:536px;font-size:12px;line-height:14px;letter-spacing:-0.486px;">Email</span>
<span class="t" style="left:680.8px;top:386px;font-size:12px;line-height:14px;letter-spacing:-0.143px;">Porta locale 212</span>
<span class="t" style="left:682.6px;top:408px;font-size:12px;line-height:14px;-webkit-text-stroke:0.32px;">Stato:</span>
<span class="t" style="left:785.6px;top:408px;font-size:12px;line-height:14px;letter-spacing:-0.220px;">In esecuzione</span>
<span class="t" style="left:682.6px;top:427px;font-size:12px;line-height:14px;-webkit-text-stroke:0.32px;letter-spacing:-0.292px;">Scadenza:</span>
<span class="t" style="left:785.6px;top:427px;font-size:12px;line-height:14px;color:#e8262a;letter-spacing:-0.041px;">Scaduta il 15/09/2015</span>
<span class="t" style="left:682.6px;top:446px;font-size:12px;line-height:14px;-webkit-text-stroke:0.32px;letter-spacing:0.115px;">Priorità:</span>
<span class="t" style="left:785.6px;top:446px;font-size:12px;line-height:14px;letter-spacing:-0.013px;">Urgente</span>
<span class="t" style="left:682.6px;top:465px;font-size:12px;line-height:14px;-webkit-text-stroke:0.32px;letter-spacing:0.297px;">Tipo di attività:</span>
<span class="t" style="left:785.6px;top:465px;font-size:12px;line-height:14px;letter-spacing:-0.234px;">Riparazione</span>
<span class="t" style="left:682.6px;top:492px;font-size:12px;line-height:14px;-webkit-text-stroke:0.32px;letter-spacing:-0.004px;">Assegnato a:</span>
<span class="t" style="left:785.6px;top:520px;font-size:12px;line-height:14px;letter-spacing:-0.020px;">Nome e Cognome</span>
<span class="t" style="left:785.6px;top:536px;font-size:12px;line-height:14px;letter-spacing:-0.486px;">Email</span>
<span class="t" style="left:682.5px;top:572px;font-size:12px;line-height:14px;font-weight:700;color:#222;letter-spacing:-0.089px;">Avanzamento:</span>
<span class="t" style="left:667.75px;top:406px;font-size:17px;line-height:19px;font-weight:700;color:#e8001c;transform:scaleX(0.85);transform-origin:0 0;">!</span>
<span class="t" style="left:1005.8px;top:386px;font-size:12px;line-height:14px;letter-spacing:-0.052px;">Estintore 312/A</span>
<span class="t" style="left:1007.6px;top:408px;font-size:12px;line-height:14px;-webkit-text-stroke:0.32px;">Stato:</span>
<span class="t" style="left:1110.6px;top:408px;font-size:12px;line-height:14px;letter-spacing:-0.499px;">Chiusa</span>
<span class="t" style="left:1007.6px;top:427px;font-size:12px;line-height:14px;-webkit-text-stroke:0.32px;letter-spacing:-0.292px;">Scadenza:</span>
<span class="t" style="left:1110.6px;top:427px;font-size:12px;line-height:14px;letter-spacing:0.089px;">14/09/2015</span>
<span class="t" style="left:1007.6px;top:446px;font-size:12px;line-height:14px;-webkit-text-stroke:0.32px;letter-spacing:0.115px;">Priorità:</span>
<span class="t" style="left:1110.6px;top:446px;font-size:12px;line-height:14px;letter-spacing:-0.013px;">Urgente</span>
<span class="t" style="left:1007.6px;top:465px;font-size:12px;line-height:14px;-webkit-text-stroke:0.32px;letter-spacing:0.297px;">Tipo di attività:</span>
<span class="t" style="left:1110.6px;top:465px;font-size:12px;line-height:14px;letter-spacing:0.134px;">Controllo</span>
<span class="t" style="left:1007.6px;top:492px;font-size:12px;line-height:14px;-webkit-text-stroke:0.32px;letter-spacing:-0.004px;">Assegnato a:</span>
<span class="t" style="left:1110.6px;top:520px;font-size:12px;line-height:14px;letter-spacing:-0.020px;">Nome e Cognome</span>
<span class="t" style="left:1110.6px;top:536px;font-size:12px;line-height:14px;letter-spacing:-0.486px;">Email</span>
<span class="t" style="left:1007.5px;top:572px;font-size:12px;line-height:14px;font-weight:700;color:#222;letter-spacing:-0.089px;">Avanzamento:</span>
<span class="t" style="left:992.75px;top:406px;font-size:17px;line-height:19px;font-weight:700;color:#e8001c;transform:scaleX(0.85);transform-origin:0 0;">!</span>
<span class="t" style="left:355.8px;top:586px;font-size:12px;line-height:14px;letter-spacing:0.141px;">Controsoffitto paino terzo</span>
<span class="t" style="left:356.6px;top:608px;font-size:12px;line-height:14px;-webkit-text-stroke:0.32px;">Stato:</span>
<span class="t" style="left:459.6px;top:608px;font-size:12px;line-height:14px;letter-spacing:-0.499px;">Chiusa</span>
<span class="t" style="left:356.6px;top:627px;font-size:12px;line-height:14px;-webkit-text-stroke:0.32px;letter-spacing:-0.292px;">Scadenza:</span>
<span class="t" style="left:459.6px;top:627px;font-size:12px;line-height:14px;letter-spacing:0.089px;">16/09/2015</span>
<span class="t" style="left:356.6px;top:646px;font-size:12px;line-height:14px;-webkit-text-stroke:0.32px;letter-spacing:0.115px;">Priorità:</span>
<span class="t" style="left:459.6px;top:646px;font-size:12px;line-height:14px;letter-spacing:-1.081px;">Bassa</span>
<span class="t" style="left:356.6px;top:665px;font-size:12px;line-height:14px;-webkit-text-stroke:0.32px;letter-spacing:0.297px;">Tipo di attività:</span>
<span class="t" style="left:459.6px;top:665px;font-size:12px;line-height:14px;letter-spacing:-0.234px;">Riparazione</span>
<span class="t" style="left:356.6px;top:692px;font-size:12px;line-height:14px;-webkit-text-stroke:0.32px;letter-spacing:-0.004px;">Assegnato a:</span>
<span class="t" style="left:459.6px;top:720px;font-size:12px;line-height:14px;letter-spacing:-0.020px;">Nome e Cognome</span>
<span class="t" style="left:459.6px;top:736px;font-size:12px;line-height:14px;letter-spacing:-0.486px;">Email</span>
</div></div>
<div id="foot" class="abs"></div>
<div class="abs"><svg style="left:15px;top:732px" width="40" height="34" viewBox="15 732 40 34"><path d="M24.24 761.62 A16.5 16.5 0 0 1 24.24 737.88" fill="none" stroke="#f0a52c" stroke-width="2.6"/><path d="M30.60 763.54 A15.2 15.2 0 0 1 36.44 734.84" fill="none" stroke="#ff1c1c" stroke-width="2.6"/><path d="M46.40 759.06 A13 13 0 1 1 48.48 742.13" fill="none" stroke="#2aaef0" stroke-width="2.4"/><path d="M27.70 752.27 A10.4 10.4 0 0 1 40.39 739.35" fill="none" stroke="#7cd03a" stroke-width="2.4"/></svg></div>
<span class="t" style="left:31.85px;top:741px;font-size:17px;line-height:19px;color:#151515;letter-spacing:-0.011px;-webkit-text-stroke:0.25px;">lemsys</span>
<span class="t" style="left:589.9px;top:743px;font-size:12px;line-height:14px;letter-spacing:0.127px;">Community</span>
<span class="t" style="left:654.8px;top:740px;font-size:16px;line-height:17px;">|</span>
<span class="t" style="left:662.5px;top:743px;font-size:12px;line-height:14px;letter-spacing:-0.062px;">Acquista</span>
<span class="t" style="left:712px;top:740px;font-size:16px;line-height:17px;">|</span>
<span class="t" style="left:719px;top:743px;font-size:12px;line-height:14px;letter-spacing:0.041px;">Contattaci</span>
<span class="t" style="left:1164.8px;top:731px;font-size:14px;line-height:16px;letter-spacing:-0.039px;">Spazio disponibile</span>
<div class="abs"><div style="left:1165px;top:751px;width:190px;height:17px;border:1px solid #999;border-left:2px solid #7c7;background:#fff"></div></div>
<span class="t" style="left:1226px;top:754px;font-size:10px;line-height:11px;color:#222;letter-spacing:-0.381px;">1,96 GB di 2 GB</span>
</body></html>
